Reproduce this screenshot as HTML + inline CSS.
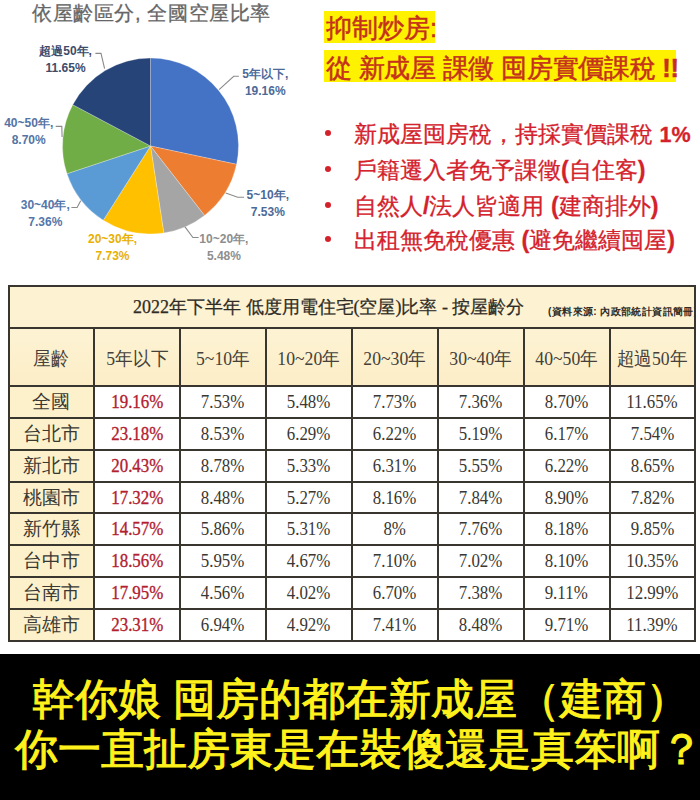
<!DOCTYPE html>
<html><head><meta charset="utf-8"><style>
*{margin:0;padding:0;box-sizing:border-box}
html,body{width:700px;height:800px;overflow:hidden;background:#fff;position:relative;font-family:"Liberation Sans",sans-serif}
.abs{position:absolute;white-space:nowrap}
#title{left:32px;top:0px;font-size:20.3px;letter-spacing:0.6px;color:#666;line-height:26px;-webkit-text-stroke:0.3px #666}
.lbl{position:absolute;width:80px;font-weight:bold;font-size:12px;line-height:17.3px;white-space:nowrap;text-align:center}
.hl1{position:absolute;background:#FFF200;color:#C4301C;font-weight:normal;-webkit-text-stroke:0.5px #C4301C;font-size:25.5px;white-space:nowrap}
.bul{position:absolute;left:354px;color:#D4222C;font-size:23.3px;white-space:nowrap;line-height:30px;-webkit-text-stroke:0.3px #D4222C}
.dot{position:absolute;left:325px;width:6px;height:6px;border-radius:50%;background:#D4222C}
#tbl{position:absolute;left:7.5px;top:284.5px;width:688.7px;height:357.5px;border:2px solid #38362e;background:#fff}
.cream{position:absolute;background:#FDF1CB}
.hc{position:absolute;top:330px;height:58px;line-height:58px;text-align:center;font-family:"Liberation Serif",serif;font-size:19px;color:#45413a}
.dc{position:absolute;text-align:center;font-family:"Liberation Serif",serif;font-size:19px;color:#3a3833}
.dc.rd{color:#B2202F;-webkit-text-stroke:0.35px #B2202F}
.sx{display:inline-block;transform:scaleX(0.89)}
.sx2{display:inline-block;transform:scaleX(0.93)}
.vl{position:absolute;width:2px;background:#38362e}
.hl{position:absolute;height:2px;background:#38362e}
#banner{position:absolute;left:0;top:653.5px;width:700px;height:146.5px;background:#000}
.bt{position:absolute;color:#FFF21C;font-size:43px;font-weight:normal;-webkit-text-stroke:1px #FFF21C;white-space:nowrap;line-height:50px}
</style></head><body>
<div id="title" class="abs">依屋齡區分, 全國空屋比率</div>
<svg style="position:absolute;left:0;top:0" width="300" height="280" viewBox="0 0 300 280">
<g stroke="#fff" stroke-opacity="0.45" stroke-width="0.6"><path d="M150.5,146 L150.50,58.00 A88,88 0 0 1 236.57,164.33 Z" fill="#4472C4"/>
<path d="M150.5,146 L236.57,164.33 A88,88 0 0 1 204.54,215.45 Z" fill="#ED7D31"/>
<path d="M150.5,146 L204.54,215.45 A88,88 0 0 1 163.82,232.99 Z" fill="#A5A5A5"/>
<path d="M150.5,146 L163.82,232.99 A88,88 0 0 1 103.28,220.26 Z" fill="#FFC000"/>
<path d="M150.5,146 L103.28,220.26 A88,88 0 0 1 66.98,173.71 Z" fill="#5B9BD5"/>
<path d="M150.5,146 L66.98,173.71 A88,88 0 0 1 72.78,104.73 Z" fill="#70AD47"/>
<path d="M150.5,146 L72.78,104.73 A88,88 0 0 1 150.50,58.00 Z" fill="#264478"/></g>
<g fill="none" stroke="#8a8a8a" stroke-width="1.1">
<polyline points="95.4,53.4 101,53.4 104.6,68.6"/>
<polyline points="238.9,76.3 233.7,76.3 219.1,89.6"/>
<polyline points="55.7,126.4 61.8,126.4 62.1,137.1"/>
<polyline points="244.1,197.3 237.7,197.3 225.7,193.1"/>
<polyline points="198.6,237.5 192.9,237.5 185,226.8"/>
<polyline points="71.4,207.5 77.1,207.5 80.7,200.7"/>
</g>
</svg>
<div class="lbl" style="left:25.6px;top:42.5px;color:#3E4C6A;">超過50年,<br>11.65%</div>
<div class="lbl" style="left:225.3px;top:65.5px;color:#4C6A98;">5年以下,<br>19.16%</div>
<div class="lbl" style="left:-11.3px;top:115px;color:#5474A4;">40~50年,<br>8.70%</div>
<div class="lbl" style="left:227.8px;top:186.5px;color:#4C6A98;">5~10年,<br>7.53%</div>
<div class="lbl" style="left:5.3px;top:196.5px;color:#5276AC;">30~40年,<br>7.36%</div>
<div class="lbl" style="left:72.5px;top:230.5px;color:#E8B000;">20~30年,<br>7.73%</div>
<div class="lbl" style="left:183.9px;top:230.5px;color:#8E8E8E;">10~20年,<br>5.48%</div>

<div class="hl1" style="left:324px;top:11px;width:111px;height:32px;line-height:35px;padding-left:2px">抑制炒房:</div>
<div class="hl1" style="left:324px;top:50px;width:352px;height:32px;line-height:36px;padding-left:2px;letter-spacing:-0.25px">從 新成屋 課徵 囤房實價課稅 <b>!!</b></div>

<div class="dot" style="top:130px"></div><div class="bul" style="top:119px">新成屋囤房稅，持採實價課稅 <b style="font-size:21.5px">1%</b></div>
<div class="dot" style="top:166px"></div><div class="bul" style="top:155px">戶籍遷入者免予課徵<b>(</b>自住客<b>)</b></div>
<div class="dot" style="top:202px"></div><div class="bul" style="top:191px">自然人<b>/</b>法人皆適用 <b>(</b>建商排外<b>)</b></div>
<div class="dot" style="top:236px"></div><div class="bul" style="top:225px">出租無免稅優惠 <b>(</b>避免繼續囤屋<b>)</b></div>

<div id="tbl"></div>
<div class="cream" style="left:9.5px;top:286.5px;width:684.7px;height:42px;background:#FDF3D3"></div>
<div class="cream" style="left:9.5px;top:328px;width:684.7px;height:58px;background:linear-gradient(#FDF3D4,#FCEDC6)"></div>
<div class="cream" style="left:9.5px;top:386px;width:84.7px;height:254px"></div>
<div class="hl" style="left:8px;top:326.7px;width:688px"></div>
<div class="hl" style="left:8px;top:384.9px;width:688px"></div>
<div class="abs" style="left:133px;top:294px;font-family:'Liberation Serif',serif;font-size:18px;color:#2f2c26;line-height:26px;-webkit-text-stroke:0.25px #2f2c26">2022年下半年 低度用電住宅(空屋)比率 - 按屋齡分</div>
<div class="abs" style="left:548px;top:304.5px;font-size:10px;letter-spacing:0.4px;font-weight:bold;color:#2f2c26;line-height:14px;width:146px;overflow:hidden">(資料來源: 內政部統計資訊簡冊)</div>
<div class="hc" style="left:8.5px;width:85.7px"><span class="sx2">屋齡</span></div><div class="hc" style="left:94.2px;width:85.9px"><span class="sx2">5年以下</span></div><div class="hc" style="left:180.1px;width:85.8px"><span class="sx2">5~10年</span></div><div class="hc" style="left:265.9px;width:85.7px"><span class="sx2">10~20年</span></div><div class="hc" style="left:351.6px;width:86.1px"><span class="sx2">20~30年</span></div><div class="hc" style="left:437.7px;width:85.8px"><span class="sx2">30~40年</span></div><div class="hc" style="left:523.5px;width:86.0px"><span class="sx2">40~50年</span></div><div class="hc" style="left:609.5px;width:85.7px"><span class="sx2">超過50年</span></div><div class="dc nm" style="left:8.5px;top:385.9px;width:85.7px;height:31.9px;line-height:31.9px">全國</div><div class="dc rd" style="left:94.2px;top:385.9px;width:85.9px;height:31.9px;line-height:31.9px"><span class="sx">19.16%</span></div><div class="dc dv" style="left:180.1px;top:385.9px;width:85.8px;height:31.9px;line-height:31.9px"><span class="sx">7.53%</span></div><div class="dc dv" style="left:265.9px;top:385.9px;width:85.7px;height:31.9px;line-height:31.9px"><span class="sx">5.48%</span></div><div class="dc dv" style="left:351.6px;top:385.9px;width:86.1px;height:31.9px;line-height:31.9px"><span class="sx">7.73%</span></div><div class="dc dv" style="left:437.7px;top:385.9px;width:85.8px;height:31.9px;line-height:31.9px"><span class="sx">7.36%</span></div><div class="dc dv" style="left:523.5px;top:385.9px;width:86.0px;height:31.9px;line-height:31.9px"><span class="sx">8.70%</span></div><div class="dc dv" style="left:609.5px;top:385.9px;width:85.7px;height:31.9px;line-height:31.9px"><span class="sx">11.65%</span></div><div class="dc nm" style="left:8.5px;top:417.8px;width:85.7px;height:31.9px;line-height:31.9px">台北市</div><div class="dc rd" style="left:94.2px;top:417.8px;width:85.9px;height:31.9px;line-height:31.9px"><span class="sx">23.18%</span></div><div class="dc dv" style="left:180.1px;top:417.8px;width:85.8px;height:31.9px;line-height:31.9px"><span class="sx">8.53%</span></div><div class="dc dv" style="left:265.9px;top:417.8px;width:85.7px;height:31.9px;line-height:31.9px"><span class="sx">6.29%</span></div><div class="dc dv" style="left:351.6px;top:417.8px;width:86.1px;height:31.9px;line-height:31.9px"><span class="sx">6.22%</span></div><div class="dc dv" style="left:437.7px;top:417.8px;width:85.8px;height:31.9px;line-height:31.9px"><span class="sx">5.19%</span></div><div class="dc dv" style="left:523.5px;top:417.8px;width:86.0px;height:31.9px;line-height:31.9px"><span class="sx">6.17%</span></div><div class="dc dv" style="left:609.5px;top:417.8px;width:85.7px;height:31.9px;line-height:31.9px"><span class="sx">7.54%</span></div><div class="dc nm" style="left:8.5px;top:449.6px;width:85.7px;height:31.9px;line-height:31.9px">新北市</div><div class="dc rd" style="left:94.2px;top:449.6px;width:85.9px;height:31.9px;line-height:31.9px"><span class="sx">20.43%</span></div><div class="dc dv" style="left:180.1px;top:449.6px;width:85.8px;height:31.9px;line-height:31.9px"><span class="sx">8.78%</span></div><div class="dc dv" style="left:265.9px;top:449.6px;width:85.7px;height:31.9px;line-height:31.9px"><span class="sx">5.33%</span></div><div class="dc dv" style="left:351.6px;top:449.6px;width:86.1px;height:31.9px;line-height:31.9px"><span class="sx">6.31%</span></div><div class="dc dv" style="left:437.7px;top:449.6px;width:85.8px;height:31.9px;line-height:31.9px"><span class="sx">5.55%</span></div><div class="dc dv" style="left:523.5px;top:449.6px;width:86.0px;height:31.9px;line-height:31.9px"><span class="sx">6.22%</span></div><div class="dc dv" style="left:609.5px;top:449.6px;width:85.7px;height:31.9px;line-height:31.9px"><span class="sx">8.65%</span></div><div class="dc nm" style="left:8.5px;top:481.5px;width:85.7px;height:31.9px;line-height:31.9px">桃園市</div><div class="dc rd" style="left:94.2px;top:481.5px;width:85.9px;height:31.9px;line-height:31.9px"><span class="sx">17.32%</span></div><div class="dc dv" style="left:180.1px;top:481.5px;width:85.8px;height:31.9px;line-height:31.9px"><span class="sx">8.48%</span></div><div class="dc dv" style="left:265.9px;top:481.5px;width:85.7px;height:31.9px;line-height:31.9px"><span class="sx">5.27%</span></div><div class="dc dv" style="left:351.6px;top:481.5px;width:86.1px;height:31.9px;line-height:31.9px"><span class="sx">8.16%</span></div><div class="dc dv" style="left:437.7px;top:481.5px;width:85.8px;height:31.9px;line-height:31.9px"><span class="sx">7.84%</span></div><div class="dc dv" style="left:523.5px;top:481.5px;width:86.0px;height:31.9px;line-height:31.9px"><span class="sx">8.90%</span></div><div class="dc dv" style="left:609.5px;top:481.5px;width:85.7px;height:31.9px;line-height:31.9px"><span class="sx">7.82%</span></div><div class="dc nm" style="left:8.5px;top:513.4px;width:85.7px;height:31.9px;line-height:31.9px">新竹縣</div><div class="dc rd" style="left:94.2px;top:513.4px;width:85.9px;height:31.9px;line-height:31.9px"><span class="sx">14.57%</span></div><div class="dc dv" style="left:180.1px;top:513.4px;width:85.8px;height:31.9px;line-height:31.9px"><span class="sx">5.86%</span></div><div class="dc dv" style="left:265.9px;top:513.4px;width:85.7px;height:31.9px;line-height:31.9px"><span class="sx">5.31%</span></div><div class="dc dv" style="left:351.6px;top:513.4px;width:86.1px;height:31.9px;line-height:31.9px"><span class="sx">8%</span></div><div class="dc dv" style="left:437.7px;top:513.4px;width:85.8px;height:31.9px;line-height:31.9px"><span class="sx">7.76%</span></div><div class="dc dv" style="left:523.5px;top:513.4px;width:86.0px;height:31.9px;line-height:31.9px"><span class="sx">8.18%</span></div><div class="dc dv" style="left:609.5px;top:513.4px;width:85.7px;height:31.9px;line-height:31.9px"><span class="sx">9.85%</span></div><div class="dc nm" style="left:8.5px;top:545.3px;width:85.7px;height:31.9px;line-height:31.9px">台中市</div><div class="dc rd" style="left:94.2px;top:545.3px;width:85.9px;height:31.9px;line-height:31.9px"><span class="sx">18.56%</span></div><div class="dc dv" style="left:180.1px;top:545.3px;width:85.8px;height:31.9px;line-height:31.9px"><span class="sx">5.95%</span></div><div class="dc dv" style="left:265.9px;top:545.3px;width:85.7px;height:31.9px;line-height:31.9px"><span class="sx">4.67%</span></div><div class="dc dv" style="left:351.6px;top:545.3px;width:86.1px;height:31.9px;line-height:31.9px"><span class="sx">7.10%</span></div><div class="dc dv" style="left:437.7px;top:545.3px;width:85.8px;height:31.9px;line-height:31.9px"><span class="sx">7.02%</span></div><div class="dc dv" style="left:523.5px;top:545.3px;width:86.0px;height:31.9px;line-height:31.9px"><span class="sx">8.10%</span></div><div class="dc dv" style="left:609.5px;top:545.3px;width:85.7px;height:31.9px;line-height:31.9px"><span class="sx">10.35%</span></div><div class="dc nm" style="left:8.5px;top:577.1px;width:85.7px;height:31.9px;line-height:31.9px">台南市</div><div class="dc rd" style="left:94.2px;top:577.1px;width:85.9px;height:31.9px;line-height:31.9px"><span class="sx">17.95%</span></div><div class="dc dv" style="left:180.1px;top:577.1px;width:85.8px;height:31.9px;line-height:31.9px"><span class="sx">4.56%</span></div><div class="dc dv" style="left:265.9px;top:577.1px;width:85.7px;height:31.9px;line-height:31.9px"><span class="sx">4.02%</span></div><div class="dc dv" style="left:351.6px;top:577.1px;width:86.1px;height:31.9px;line-height:31.9px"><span class="sx">6.70%</span></div><div class="dc dv" style="left:437.7px;top:577.1px;width:85.8px;height:31.9px;line-height:31.9px"><span class="sx">7.38%</span></div><div class="dc dv" style="left:523.5px;top:577.1px;width:86.0px;height:31.9px;line-height:31.9px"><span class="sx">9.11%</span></div><div class="dc dv" style="left:609.5px;top:577.1px;width:85.7px;height:31.9px;line-height:31.9px"><span class="sx">12.99%</span></div><div class="dc nm" style="left:8.5px;top:609.0px;width:85.7px;height:31.9px;line-height:31.9px">高雄市</div><div class="dc rd" style="left:94.2px;top:609.0px;width:85.9px;height:31.9px;line-height:31.9px"><span class="sx">23.31%</span></div><div class="dc dv" style="left:180.1px;top:609.0px;width:85.8px;height:31.9px;line-height:31.9px"><span class="sx">6.94%</span></div><div class="dc dv" style="left:265.9px;top:609.0px;width:85.7px;height:31.9px;line-height:31.9px"><span class="sx">4.92%</span></div><div class="dc dv" style="left:351.6px;top:609.0px;width:86.1px;height:31.9px;line-height:31.9px"><span class="sx">7.41%</span></div><div class="dc dv" style="left:437.7px;top:609.0px;width:85.8px;height:31.9px;line-height:31.9px"><span class="sx">8.48%</span></div><div class="dc dv" style="left:523.5px;top:609.0px;width:86.0px;height:31.9px;line-height:31.9px"><span class="sx">9.71%</span></div><div class="dc dv" style="left:609.5px;top:609.0px;width:85.7px;height:31.9px;line-height:31.9px"><span class="sx">11.39%</span></div>
<div class="vl" style="left:93.2px;top:327.7px;height:313px"></div><div class="vl" style="left:179.1px;top:327.7px;height:313px"></div><div class="vl" style="left:264.9px;top:327.7px;height:313px"></div><div class="vl" style="left:350.6px;top:327.7px;height:313px"></div><div class="vl" style="left:436.7px;top:327.7px;height:313px"></div><div class="vl" style="left:522.5px;top:327.7px;height:313px"></div><div class="vl" style="left:608.5px;top:327.7px;height:313px"></div><div class="hl" style="left:8px;top:416.8px;width:688px"></div><div class="hl" style="left:8px;top:448.6px;width:688px"></div><div class="hl" style="left:8px;top:480.5px;width:688px"></div><div class="hl" style="left:8px;top:512.4px;width:688px"></div><div class="hl" style="left:8px;top:544.3px;width:688px"></div><div class="hl" style="left:8px;top:576.1px;width:688px"></div><div class="hl" style="left:8px;top:608.0px;width:688px"></div>

<div id="banner"></div>
<div class="bt" style="left:32px;top:674px">幹你娘 囤房的都在新成屋（建商）</div>
<div class="bt" style="left:15px;top:724px">你一直扯房東是在裝傻還是真笨啊？</div>
</body></html>
